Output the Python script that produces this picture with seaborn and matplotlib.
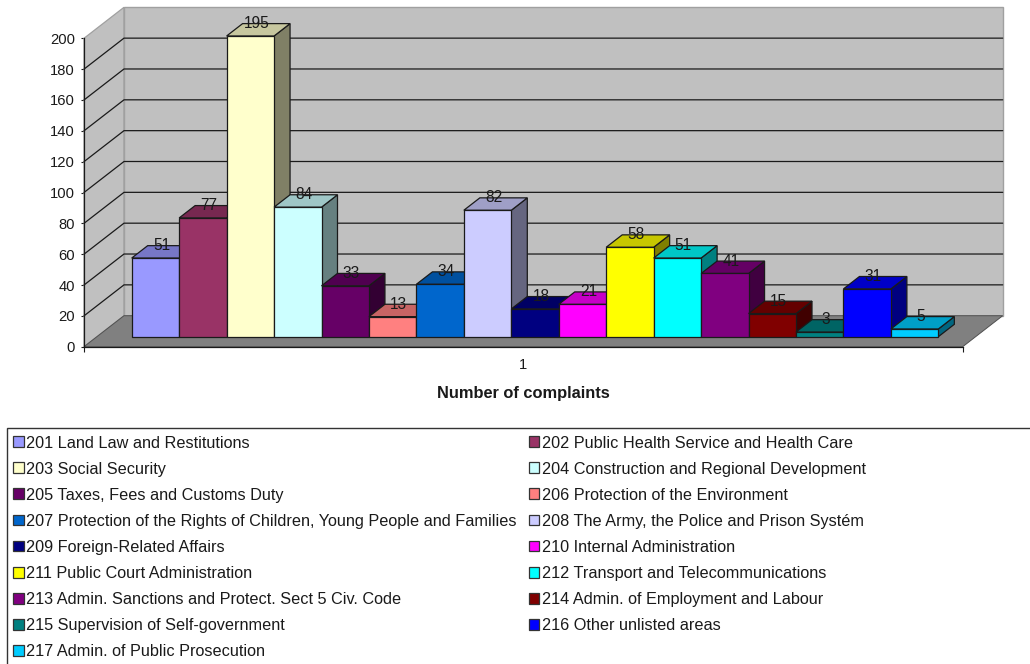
import matplotlib
matplotlib.use("Agg")
import matplotlib.pyplot as plt
from matplotlib.patches import Polygon, Rectangle
import pandas as pd
import seaborn as sns

areas = ["201 Land Law and Restitutions", "202 Public Health Service and Health Care",
         "203 Social Security", "204 Construction and Regional Development",
         "205 Taxes, Fees and Customs Duty", "206 Protection of the Environment",
         "207 Protection of the Rights of Children, Young People and Families",
         "208 The Army, the Police and Prison Systém", "209 Foreign-Related Affairs",
         "210 Internal Administration", "211 Public Court Administration",
         "212 Transport and Telecommunications", "213 Admin. Sanctions and Protect. Sect 5 Civ. Code",
         "214 Admin. of Employment and Labour", "215 Supervision of Self-government",
         "216 Other unlisted areas", "217 Admin. of Public Prosecution"]
complaints = [51, 77, 195, 84, 33, 13, 34, 82, 18, 21, 58, 51, 41, 15, 3, 31, 5]
colors = ["#9999FF", "#993366", "#FFFFCC", "#CCFFFF", "#660066", "#FF8080", "#0066CC", "#CCCCFF",
          "#000080", "#FF00FF", "#FFFF00", "#00FFFF", "#800080", "#800000", "#008080", "#0000FF", "#00CCFF"]
y_ticks = list(range(0, 201, 20))
category_label = "1"
x_title = "Number of complaints"

sns.set_theme(style="ticks")
plt.rcParams["font.family"] = ["Liberation Sans", "DejaVu Sans"]
W, H = 1030, 664
INK = "#1a1a1a"
FS = 10.6
FS_LEG = 11.72
fig = plt.figure(figsize=(W / 100, H / 100), dpi=100, facecolor="white")


def px_axes(left, right, top, bottom):
    return fig.add_axes([left / W, 1 - bottom / H, (right - left) / W, (bottom - top) / H])


# frame axes: front plane of the 3D box
L, R, T, B = 84, 962.7, 38.3, 346.7
axF = px_axes(L, R, T, B)
axF.set_facecolor("none")
axF.set_xlim(0, 1)
axF.set_ylim(0, 200)
ux = 1 / (R - L)
uy = 200 / (B - T)
ddx, ddy = 40 * ux, 31 * uy
axF.add_patch(Polygon([(0, 0), (ddx, ddy), (ddx, 200 + ddy), (0, 200)], fc="#C0C0C0", ec="#A0A0A0", lw=0.9, clip_on=False, zorder=1))
axF.add_patch(Polygon([(ddx, ddy), (1 + ddx, ddy), (1 + ddx, 200 + ddy), (ddx, 200 + ddy)], fc="#C0C0C0", ec="#A0A0A0", lw=1.0, clip_on=False, zorder=1))
axF.add_patch(Polygon([(0, 0), (1, 0), (1 + ddx, ddy), (ddx, ddy)], fc="#808080", ec="#505050", lw=0.7, clip_on=False, zorder=1.2))
for v in y_ticks[1:-1]:
    axF.plot([0, ddx, 1 + ddx], [v, v + ddy, v + ddy], color=INK, lw=0.9, clip_on=False, zorder=1.1)
for s in ["top", "right"]:
    axF.spines[s].set_visible(False)
for s in ["left", "bottom"]:
    axF.spines[s].set_color(INK)
    axF.spines[s].set_linewidth(0.9)
    axF.spines[s].set_zorder(1.5)
axF.set_yticks(y_ticks)
axF.set_xticks([0, 1])
axF.set_xticklabels([])
axF.set_xticks([0.5], [category_label], minor=True)
axF.tick_params(axis="x", which="minor", length=0, labelsize=FS, pad=8, colors=INK)
axF.tick_params(axis="x", which="major", length=3.5, width=0.8, color=INK)
axF.tick_params(axis="y", length=2.5, width=0.8, pad=4, labelsize=FS, color=INK, labelcolor=INK)
axF.set_xlabel(x_title, fontsize=11.8, fontweight="bold", color=INK, labelpad=10)

# bars axes: the plane of the bars' front faces
BW = 47.45
GAP = 34.8
bar_b = 336.7
bar_l = 131.7 - GAP
axB = px_axes(bar_l, bar_l + len(areas) * BW + 2 * GAP, bar_b - (B - T), bar_b)
axB.patch.set_visible(False)
df = pd.DataFrame({"area": areas, "complaints": complaints})
sns.barplot(data=df, x="area", y="complaints", hue="area", order=areas, hue_order=areas,
            palette=colors, dodge=False, width=1, saturation=1, ax=axB, legend=True,
            edgecolor=INK, linewidth=0.9)
leg = axB.get_legend()
handles = list(leg.legend_handles)
labels = [t.get_text() for t in leg.get_texts()]
leg.remove()
axB.set_xlim(-0.5 - GAP / BW, len(areas) - 0.5 + GAP / BW)
axB.set_ylim(0, 200)
axB.axis("off")

DX, DY = 16 / BW, 12.4 * uy


def shade(c, f):
    r, g, b = matplotlib.colors.to_rgb(c)
    return (r * f, g * f, b * f)


bars = [b for cont in axB.containers for b in cont if b.get_height() > 0]
for i, (bar, val, col) in enumerate(zip(bars, complaints, colors)):
    z = 3 + 2 * i
    x0, x1 = i - 0.5, i + 0.5
    bar.set_zorder(z + 1)
    bar.set_clip_on(False)
    axB.add_patch(Polygon([(x1, 0), (x1 + DX, DY), (x1 + DX, val + DY), (x1, val)], fc=shade(col, 0.5), ec=INK, lw=0.9, clip_on=False, zorder=z))
    axB.add_patch(Polygon([(x0, val), (x1, val), (x1 + DX, val + DY), (x0 + DX, val + DY)], fc=shade(col, 0.78), ec=INK, lw=0.9, clip_on=False, zorder=z + 0.5))
    axB.text(i + 6 / BW, val + DY, str(val), ha="center", va="center", fontsize=11.2, color=INK, zorder=100, clip_on=False)

# legend
fig.add_artist(Rectangle((7 / W, -0.02), 1.02, 1.02 - 428 / H, transform=fig.transFigure, fc="white", ec="#333333", lw=1.0, clip_on=True))
order = list(range(0, 17, 2)) + list(range(1, 17, 2))
lg = fig.legend([handles[i] for i in order], [labels[i] for i in order], ncol=2, frameon=False,
                loc="upper left", bbox_to_anchor=(13 / W, 1 - 435.5 / H), borderpad=0, borderaxespad=0,
                fontsize=FS_LEG, handlelength=0.65, handleheight=0.65, handletextpad=0.15,
                labelspacing=0.68, columnspacing=0.75, labelcolor=INK)
for h in lg.legend_handles:
    h.set_edgecolor("#333333")
    h.set_linewidth(0.9)

fig.savefig("out.png", dpi=100)
